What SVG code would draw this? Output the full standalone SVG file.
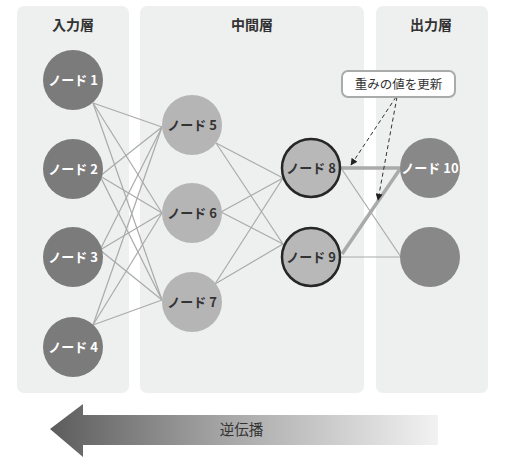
<svg xmlns="http://www.w3.org/2000/svg" width="509" height="461" viewBox="0 0 509 461">
<defs>
<linearGradient id="bp" x1="50" y1="0" x2="438" y2="0" gradientUnits="userSpaceOnUse">
<stop offset="0" stop-color="#5c5c5c"/>
<stop offset="0.45" stop-color="#a6a6a6"/>
<stop offset="1" stop-color="#f2f2f2"/>
</linearGradient>
<marker id="ah" viewBox="0 0 10 10" refX="9" refY="5" markerWidth="7" markerHeight="7" orient="auto" markerUnits="userSpaceOnUse">
<path d="M0,0 L10,5 L0,10 z" fill="#222"/>
</marker>
</defs>
<style>
.panel{fill:#eeefef}
.title{font-family:"Noto Sans CJK JP","Noto Sans",sans-serif;font-size:14px;font-weight:bold;fill:#333;text-anchor:middle}
.lbl{font-family:"Noto Sans CJK JP","Noto Sans",sans-serif;font-size:13px;font-weight:bold;text-anchor:middle}
.in{fill:#7b7b7b}
.mid{fill:#b5b5b5}
.sel{fill:#b8b8b8;stroke:#262626;stroke-width:2.5}
.out{fill:#888888}
.w{fill:#ffffff}
.d{fill:#333333}
.ln{stroke:#aaaaaa;stroke-width:1.2;fill:none}
.thick{stroke:#aaaaaa;stroke-width:3.5;fill:none}
.dash{stroke:#333;stroke-width:1;stroke-dasharray:4 3;fill:none}
</style>
<g id="panels">
<rect class="panel" x="17" y="6" width="112" height="387" rx="7"/>
<rect class="panel" x="140" y="6" width="224" height="387" rx="7"/>
<rect class="panel" x="376" y="6" width="112" height="387" rx="7"/>
<text class="title" x="73" y="30">入力層</text>
<text class="title" x="252" y="30">中間層</text>
<text class="title" x="431" y="30">出力層</text>
</g>
<g id="connectors">
<line class="ln" x1="93" y1="103" x2="162" y2="127"/>
<line class="ln" x1="93" y1="103" x2="162" y2="213"/>
<line class="ln" x1="93" y1="103" x2="162" y2="300"/>
<line class="ln" x1="100" y1="176" x2="162" y2="127"/>
<line class="ln" x1="100" y1="176" x2="162" y2="213"/>
<line class="ln" x1="100" y1="176" x2="162" y2="300"/>
<line class="ln" x1="100" y1="250" x2="162" y2="127"/>
<line class="ln" x1="100" y1="250" x2="162" y2="213"/>
<line class="ln" x1="100" y1="250" x2="162" y2="300"/>
<line class="ln" x1="93" y1="325" x2="162" y2="127"/>
<line class="ln" x1="93" y1="325" x2="162" y2="213"/>
<line class="ln" x1="93" y1="325" x2="162" y2="300"/>
<line class="ln" x1="216" y1="143" x2="283" y2="178"/>
<line class="ln" x1="216" y1="143" x2="283" y2="244"/>
<line class="ln" x1="221" y1="212" x2="283" y2="178"/>
<line class="ln" x1="221" y1="212" x2="283" y2="244"/>
<line class="ln" x1="215" y1="284" x2="283" y2="178"/>
<line class="ln" x1="215" y1="284" x2="283" y2="244"/>
<line class="ln" x1="341" y1="168" x2="401" y2="257"/>
<line class="ln" x1="341" y1="257" x2="401" y2="257"/>
<line class="thick" x1="341" y1="168" x2="401" y2="168"/>
<line class="thick" x1="342" y1="254" x2="400" y2="169"/>
<line class="dash" x1="396" y1="97" x2="351" y2="165" marker-end="url(#ah)"/>
<line class="dash" x1="397" y1="97" x2="378" y2="200" marker-end="url(#ah)"/>
</g>
<g id="node1"><circle class="in" cx="73" cy="80" r="30"/><text class="lbl w" x="73" y="85">ノード 1</text></g>
<g id="node2"><circle class="in" cx="73" cy="169" r="30"/><text class="lbl w" x="73" y="174">ノード 2</text></g>
<g id="node3"><circle class="in" cx="73" cy="257" r="30"/><text class="lbl w" x="73" y="262">ノード 3</text></g>
<g id="node4"><circle class="in" cx="73" cy="347" r="30"/><text class="lbl w" x="73" y="352">ノード 4</text></g>
<g id="node5"><circle class="mid" cx="192" cy="125" r="30"/><text class="lbl d" x="192" y="130">ノード 5</text></g>
<g id="node6"><circle class="mid" cx="192" cy="213" r="30"/><text class="lbl d" x="192" y="218">ノード 6</text></g>
<g id="node7"><circle class="mid" cx="192" cy="302" r="30"/><text class="lbl d" x="192" y="307">ノード 7</text></g>
<g id="node8"><circle class="sel" cx="311" cy="168" r="29"/><text class="lbl d" x="311" y="173">ノード 8</text></g>
<g id="node9"><circle class="sel" cx="311" cy="257" r="29"/><text class="lbl d" x="311" y="262">ノード 9</text></g>
<g id="node10"><circle class="out" cx="430" cy="168" r="30"/><text class="lbl w" x="430" y="173">ノード 10</text></g>
<g id="node11"><circle class="out" cx="430" cy="257" r="30"/></g>
<g id="label">
<rect x="342" y="71" width="113" height="26" rx="6" fill="#ffffff" stroke="#aaaaaa" stroke-width="2"/>
<text x="398.5" y="88.5" font-family="'Noto Sans CJK JP','Noto Sans',sans-serif" font-size="12.5" fill="#333" text-anchor="middle">重みの値を更新</text>
</g>
<g id="backprop">
<path d="M50,429 L83,404 L83,415 L438,415 L438,445 L83,445 L83,457 Z" fill="url(#bp)"/>
<text x="241.5" y="435" font-family="'Noto Sans CJK JP','Noto Sans',sans-serif" font-size="14.5" fill="#333" text-anchor="middle">逆伝播</text>
</g>
</svg>
